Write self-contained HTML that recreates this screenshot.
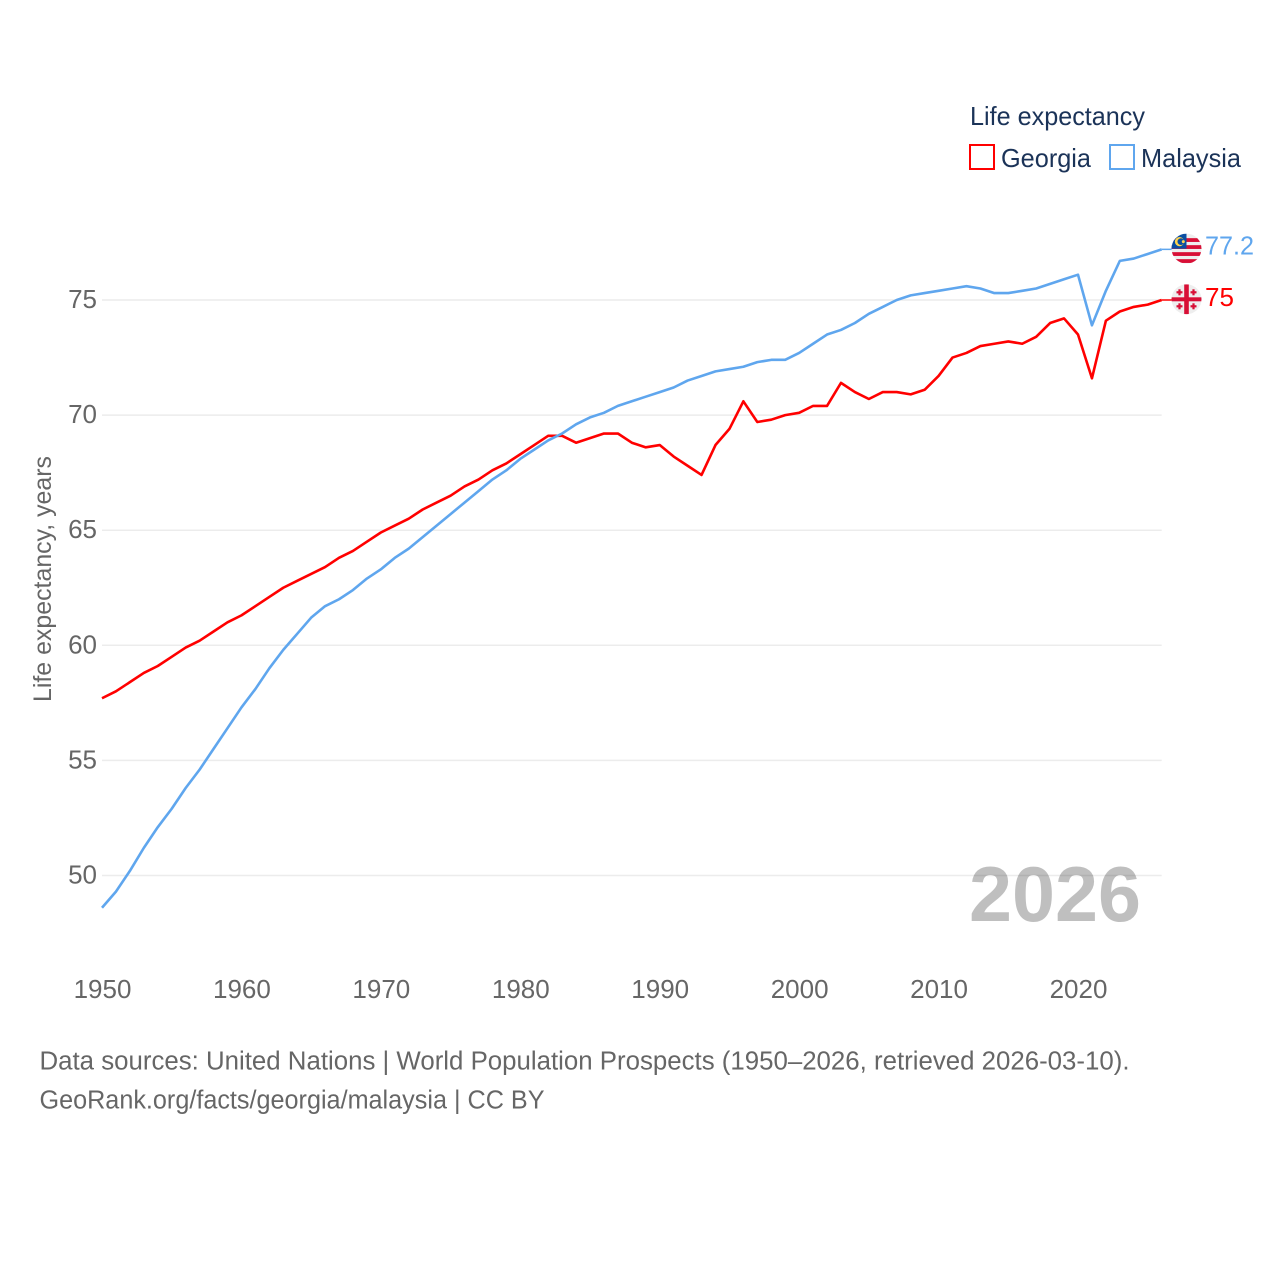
<!DOCTYPE html>
<html>
<head>
<meta charset="utf-8">
<title>Life expectancy: Georgia and Malaysia</title>
<style>
  html, body { margin: 0; padding: 0; background: #fff; }
  svg { display: block; font-family: "Liberation Sans", sans-serif; }
</style>
</head>
<body>
<svg id="chart" xmlns="http://www.w3.org/2000/svg" width="1280" height="1280" viewBox="0 0 1280 1280">
  <defs>
    <clipPath id="flag-clip"><circle cx="0" cy="0" r="15"/></clipPath>
  </defs>
  <rect width="1280" height="1280" fill="#fff"/>
  <g id="grid"></g>
  <g id="yticks"></g>
  <g id="xticks"></g>
  <text transform="translate(51,579) rotate(-90)" text-anchor="middle" font-size="25" fill="#666" textLength="246" lengthAdjust="spacingAndGlyphs">Life expectancy, years</text>
  <text x="969" y="921" font-size="78" font-weight="700" fill="#000" fill-opacity="0.25" textLength="172" lengthAdjust="spacingAndGlyphs">2026</text>
  <g id="series"></g>
  <g id="ends"></g>

  <g>
    <text x="970" y="125" font-size="26" fill="#1b3358" textLength="175" lengthAdjust="spacingAndGlyphs">Life expectancy</text>
    <rect x="970" y="145" width="24" height="24" fill="#fff" stroke="#ff0000" stroke-width="2"/>
    <text x="1001" y="167" font-size="26" fill="#1b3358" textLength="90" lengthAdjust="spacingAndGlyphs">Georgia</text>
    <rect x="1110" y="145" width="24" height="24" fill="#fff" stroke="#5fa6ee" stroke-width="2"/>
    <text x="1141" y="167" font-size="26" fill="#1b3358" textLength="100" lengthAdjust="spacingAndGlyphs">Malaysia</text>
  </g>

  <text x="39.5" y="1069.5" font-size="25.5" fill="#666" textLength="1090" lengthAdjust="spacingAndGlyphs">Data sources: United Nations | World Population Prospects (1950–2026, retrieved 2026-03-10).</text>
  <text x="39.5" y="1108.5" font-size="25.5" fill="#666" textLength="505" lengthAdjust="spacingAndGlyphs">GeoRank.org/facts/georgia/malaysia | CC BY</text>
</svg>
<script>
const startYear = 1950;
const yTickValues = [50, 55, 60, 65, 70, 75];
const xTickValues = [1950, 1960, 1970, 1980, 1990, 2000, 2010, 2020];
const georgiaValues = [57.7,58.0,58.4,58.8,59.1,59.5,59.9,60.2,60.6,61.0,61.3,61.7,62.1,62.5,62.8,63.1,63.4,63.8,64.1,64.5,64.9,65.2,65.5,65.9,66.2,66.5,66.9,67.2,67.6,67.9,68.3,68.7,69.1,69.1,68.8,69.0,69.2,69.2,68.8,68.6,68.7,68.2,67.8,67.4,68.7,69.4,70.6,69.7,69.8,70.0,70.1,70.4,70.4,71.4,71.0,70.7,71.0,71.0,70.9,71.1,71.7,72.5,72.7,73.0,73.1,73.2,73.1,73.4,74.0,74.2,73.5,71.6,74.1,74.5,74.7,74.8,75.0];
const malaysiaValues = [48.6,49.3,50.2,51.2,52.1,52.9,53.8,54.6,55.5,56.4,57.3,58.1,59.0,59.8,60.5,61.2,61.7,62.0,62.4,62.9,63.3,63.8,64.2,64.7,65.2,65.7,66.2,66.7,67.2,67.6,68.1,68.5,68.9,69.2,69.6,69.9,70.1,70.4,70.6,70.8,71.0,71.2,71.5,71.7,71.9,72.0,72.1,72.3,72.4,72.4,72.7,73.1,73.5,73.7,74.0,74.4,74.7,75.0,75.2,75.3,75.4,75.5,75.6,75.5,75.3,75.3,75.4,75.5,75.7,75.9,76.1,73.9,75.4,76.7,76.8,77.0,77.2];

const NS = 'http://www.w3.org/2000/svg';
const xScale = function (year) { return 102 + (year - 1950) * (1078 - 102) / 70; };
const yScale = function (v) { return 300 + (75 - v) * (875.5 - 300) / 25; };
const lastYear = startYear + georgiaValues.length - 1;
const plotRight = xScale(lastYear);

function mk(tag, parent, attrs, text) {
  const el = document.createElementNS(NS, tag);
  for (const k in attrs) el.setAttribute(k, attrs[k]);
  if (text !== undefined) el.textContent = text;
  parent.appendChild(el);
  return el;
}

const gridG = document.getElementById('grid');
const yG = document.getElementById('yticks');
const xG = document.getElementById('xticks');
const seriesG = document.getElementById('series');
const endsG = document.getElementById('ends');

yTickValues.forEach(function (v) {
  const line = mk('line', gridG, { x1: 102, x2: plotRight, y1: yScale(v), y2: yScale(v), stroke: '#ececec', 'stroke-width': 1.5 });
  
  
  const label = mk('text', yG, { x: 97, y: yScale(v) + 8, 'text-anchor': 'end', 'font-size': 26, fill: '#666' }, String(v));
  
  
});

xTickValues.forEach(function (year) {
  const label = mk('text', xG, { x: xScale(year) + 0.5, y: 998, 'text-anchor': 'middle', 'font-size': 26, fill: '#666' }, String(year));
  
  
});

function drawSeries(values, color) {
  const pts = values.map(function (v, i) {
    return xScale(startYear + i).toFixed(2) + ',' + yScale(v).toFixed(2);
  }).join(' ');
  const line = mk('polyline', seriesG, { points: pts, fill: 'none', stroke: color, 'stroke-width': 2.6, 'stroke-linejoin': 'round' });
  
  
  const lastY = yScale(values[values.length - 1]);
  const connector = mk('line', seriesG, { x1: plotRight, x2: 1172, y1: lastY, y2: lastY, stroke: color, 'stroke-width': 1.5 });
  
  
}
drawSeries(georgiaValues, '#ff0000');
drawSeries(malaysiaValues, '#5fa6ee');

function flagGroup(cy) {
  const outer = mk('g', endsG, { transform: 'translate(1186.5,' + (cy - 0.7) + ')' });
  return mk('g', outer, { 'clip-path': 'url(#flag-clip)' });
}

/* Malaysia flag */
const mY = yScale(malaysiaValues[malaysiaValues.length - 1]);
const mFlag = flagGroup(mY);


mk('rect', mFlag, { x: -15, y: -15, width: 30, height: 30, fill: '#eeeeee' });
[-10.5, -3.5, 3.5, 10.5].forEach(function (sy) {
  mk('rect', mFlag, { x: -15, y: sy, width: 30, height: 3.8, fill: '#d80f36' });
});
mk('rect', mFlag, { x: -15, y: -15, width: 15, height: 15, fill: '#0b4ea2' });
mk('circle', mFlag, { cx: -7, cy: -7, r: 4.6, fill: '#ffd34d' });
mk('circle', mFlag, { cx: -5.6, cy: -7, r: 3.4, fill: '#0b4ea2' });
mk('circle', mFlag, { cx: -3.2, cy: -7, r: 1.5, fill: '#ffd34d' });

/* Georgia flag */
const gY = yScale(georgiaValues[georgiaValues.length - 1]);
const gFlag = flagGroup(gY);


mk('rect', gFlag, { x: -15, y: -15, width: 30, height: 30, fill: '#eeeeee' });
mk('rect', gFlag, { x: -2.3, y: -15, width: 4.6, height: 30, fill: '#d80f36' });
mk('rect', gFlag, { x: -15, y: -2, width: 30, height: 4, fill: '#d80f36' });
[[-7, -7], [7, -7], [-7, 7], [7, 7]].forEach(function (c) {
  mk('rect', gFlag, { x: c[0] - 1.1, y: c[1] - 3, width: 2.2, height: 6, fill: '#d80f36' });
  mk('rect', gFlag, { x: c[0] - 3, y: c[1] - 1.1, width: 6, height: 2.2, fill: '#d80f36' });
});

/* End value labels */
const mLabel = mk('text', endsG, { x: 1205, y: mY + 5, 'font-size': 26, fill: '#5fa6ee', textLength: 49, lengthAdjust: 'spacingAndGlyphs' }, String(malaysiaValues[malaysiaValues.length - 1]));


const gLabel = mk('text', endsG, { x: 1205, y: gY + 6, 'font-size': 26, fill: '#ff0000' }, String(georgiaValues[georgiaValues.length - 1]));


</script>
</body>
</html>
